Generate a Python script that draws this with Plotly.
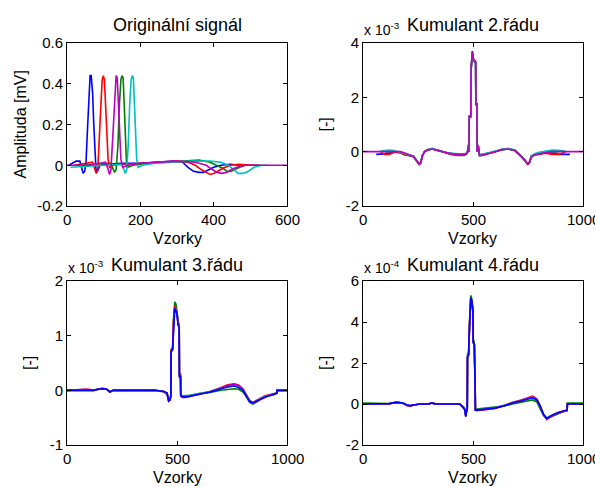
import plotly.graph_objects as go

# ---------------- DATA ----------------
tl_x_blue = [5, 15, 25, 35, 40, 44, 48, 52, 56, 60, 63, 66, 70, 73, 76, 79, 83, 90, 110, 150, 200, 250, 290, 315, 330, 345, 360, 372, 385, 400, 420, 445, 470, 495]
tl_y_blue = [0.0, 0.01, 0.02, 0.02, -0.02, -0.04, -0.03, 0.02, 0.18, 0.36, 0.44, 0.44, 0.35, 0.2, 0.08, -0.02, -0.03, 0.0, 0.005, 0.01, 0.01, 0.015, 0.02, 0.015, -0.01, -0.03, -0.035, -0.035, -0.025, -0.01, 0.0, 0.005, 0.0, 0.0]
tl_x_green = [40, 80, 110, 120, 126, 130, 134, 139, 143, 147, 150, 153, 156, 159, 162, 166, 180, 220, 270, 320, 360, 390, 410, 425, 437, 447, 458, 470, 485, 505, 530]
tl_y_green = [0.0, 0.005, 0.01, 0.01, -0.02, -0.035, -0.02, 0.1, 0.3, 0.42, 0.44, 0.43, 0.3, 0.14, 0.02, -0.01, 0.0, 0.01, 0.015, 0.02, 0.025, 0.015, 0.0, -0.015, -0.03, -0.03, -0.02, -0.01, 0.0, 0.0, 0.0]
tl_x_red = [20, 40, 60, 70, 76, 80, 84, 88, 92, 96, 99, 102, 106, 109, 112, 116, 125, 150, 200, 250, 300, 330, 350, 365, 378, 390, 400, 410, 425, 445, 470, 500, 520]
tl_y_red = [0.0, 0.005, 0.01, 0.015, -0.02, -0.04, -0.02, 0.1, 0.28, 0.42, 0.44, 0.42, 0.3, 0.15, 0.03, -0.01, 0.0, 0.005, 0.01, 0.015, 0.02, 0.015, 0.0, -0.02, -0.035, -0.045, -0.04, -0.03, -0.015, 0.0, 0.005, 0.0, 0.0]
tl_x_cyan = [10, 60, 100, 140, 150, 155, 159, 163, 167, 171, 175, 178, 181, 184, 187, 190, 194, 205, 240, 290, 340, 390, 420, 440, 455, 467, 480, 495, 510, 530, 550]
tl_y_cyan = [-0.01, -0.005, 0.0, 0.005, 0.005, -0.02, -0.04, -0.02, 0.1, 0.3, 0.42, 0.44, 0.43, 0.3, 0.15, 0.03, -0.01, 0.0, 0.01, 0.015, 0.02, 0.02, 0.015, 0.0, -0.02, -0.04, -0.04, -0.03, -0.01, 0.0, 0.0]
tl_x_mag = [0, 60, 90, 105, 112, 116, 120, 124, 128, 132, 134, 137, 140, 143, 147, 152, 165, 200, 250, 300, 350, 380, 395, 410, 422, 435, 450, 470, 490, 520, 560, 600]
tl_y_mag = [0.0, 0.0, 0.01, 0.015, -0.02, -0.045, -0.02, 0.12, 0.3, 0.42, 0.44, 0.43, 0.3, 0.15, 0.03, -0.01, 0.0, 0.01, 0.015, 0.02, 0.015, 0.0, -0.02, -0.035, -0.04, -0.035, -0.02, -0.005, 0.0, 0.0, 0.0, 0.0]

tr_x = [0, 60, 61, 80, 100, 120, 140, 170, 190, 210, 230, 245, 255, 262, 270, 280, 295, 315, 340, 370, 400, 430, 460, 474, 478, 482, 483, 490, 491, 497, 502, 507, 512, 513, 518, 519, 524, 530, 545, 570, 600, 630, 660, 690, 715, 735, 748, 756, 765, 780, 800, 830, 860, 890, 920, 940, 941, 1000]
tr_blue = [None, -0.1, -0.1, -0.1, -0.08, -0.05, 0.0, -0.02, -0.08, -0.15, -0.2, -0.35, -0.47, -0.42, -0.15, 0.0, 0.07, 0.1, 0.06, -0.02, -0.07, -0.1, -0.1, -0.05, 0.12, 0.0, 1.3, 1.3, 3.0, 3.7, 3.4, 3.35, 3.3, 1.75, 1.75, 0.0, 0.15, -0.12, -0.1, -0.05, 0.0, 0.08, 0.1, 0.05, -0.15, -0.3, -0.47, -0.42, -0.2, -0.12, -0.08, -0.05, -0.05, -0.1, -0.1, -0.1, None, None]
tr_green = [None, None, None, None, 0.0, 0.0, 0.0, -0.05, -0.12, -0.15, -0.15, -0.33, -0.44, -0.4, -0.13, 0.0, 0.06, 0.1, 0.05, -0.03, -0.1, -0.14, -0.14, -0.06, 0.25, 0.0, 1.28, 1.28, 2.95, 3.6, 3.35, 3.3, 3.25, 1.72, 1.72, 0.0, 0.25, -0.15, -0.14, -0.08, 0.0, 0.06, 0.1, 0.04, -0.13, -0.3, -0.44, -0.4, -0.15, -0.12, -0.1, -0.02, 0.0, 0.0, None, None, None, None]
tr_red = [None, None, None, -0.02, -0.1, -0.1, -0.03, -0.03, -0.1, -0.13, -0.18, -0.36, -0.46, -0.43, -0.16, 0.0, 0.06, 0.1, 0.05, -0.03, -0.09, -0.12, -0.12, -0.06, 0.15, 0.0, 1.3, 1.3, 3.0, 3.65, 3.4, 3.35, 3.3, 1.75, 1.75, 0.0, 0.18, -0.13, -0.12, -0.07, 0.0, 0.07, 0.1, 0.05, -0.14, -0.32, -0.46, -0.43, -0.18, -0.1, -0.08, -0.06, -0.1, -0.1, -0.02, None, None, None]
tr_cyan = [None, None, None, 0.02, 0.05, 0.06, 0.04, -0.02, -0.06, -0.1, -0.16, -0.34, -0.44, -0.41, -0.14, 0.0, 0.08, 0.12, 0.06, -0.02, -0.06, -0.08, -0.09, -0.04, 0.1, 0.0, 1.3, 1.3, 3.0, 3.6, 3.38, 3.33, 3.28, 1.74, 1.74, 0.0, 0.12, -0.1, -0.09, -0.04, 0.02, 0.09, 0.12, 0.06, -0.14, -0.31, -0.44, -0.41, -0.16, -0.08, -0.02, 0.02, 0.06, 0.05, 0.02, None, None, None]
tr_mag = [0.0, 0.0, 0.0, 0.0, 0.0, 0.0, 0.0, 0.0, -0.05, -0.12, -0.18, -0.35, -0.45, -0.4, -0.15, 0.0, 0.08, 0.1, 0.05, -0.03, -0.08, -0.1, -0.1, -0.05, 0.1, 0.0, 1.3, 1.3, 3.0, 3.65, 3.4, 3.35, 3.3, 1.75, 1.75, 0.0, 0.2, -0.15, -0.12, -0.08, 0.0, 0.08, 0.1, 0.05, -0.15, -0.3, -0.45, -0.4, -0.2, -0.12, -0.08, -0.05, 0.0, 0.0, 0.0, 0.0, 0.0, 0.0]

bl_x = [0, 80, 100, 120, 140, 160, 180, 195, 210, 300, 400, 440, 455, 462, 468, 472, 473, 480, 484, 490, 495, 500, 505, 510, 511, 516, 517, 526, 540, 560, 600, 650, 700, 730, 760, 780, 800, 815, 830, 845, 860, 880, 900, 920, 940, 954, 955, 1000]
bl_green = [0, 0, 0.01, 0.0, 0.02, 0.04, 0.02, -0.02, 0.0, 0.0, 0.0, -0.03, -0.08, -0.18, -0.16, -0.1, 0.75, 0.78, 1.3, 1.62, 1.58, 1.45, 1.25, 1.2, 0.3, 0.3, -0.08, -0.1, -0.1, -0.09, -0.06, -0.04, 0.0, 0.02, 0.03, 0.02, -0.03, -0.12, -0.22, -0.25, -0.22, -0.16, -0.12, -0.1, -0.08, -0.05, 0.0, 0.0]
bl_red = [0, 0.02, 0.02, 0.0, 0.02, 0.03, 0.02, -0.03, 0.0, 0.0, 0.0, -0.02, -0.06, -0.19, -0.17, -0.1, 0.72, 0.76, 1.25, 1.55, 1.5, 1.42, 1.22, 1.18, 0.28, 0.28, -0.1, -0.13, -0.12, -0.1, -0.07, -0.02, 0.05, 0.1, 0.12, 0.1, 0.03, -0.08, -0.18, -0.22, -0.19, -0.14, -0.1, -0.08, -0.06, -0.05, 0.0, 0.0]
bl_cyan = [0, 0, 0.01, 0.0, 0.02, 0.03, 0.02, -0.03, 0.0, 0.0, 0.0, -0.02, -0.05, -0.18, -0.17, -0.1, 0.7, 0.74, 1.2, 1.52, 1.48, 1.4, 1.2, 1.16, 0.26, 0.26, -0.09, -0.11, -0.11, -0.09, -0.06, -0.02, 0.04, 0.08, 0.1, 0.08, 0.02, -0.09, -0.19, -0.22, -0.2, -0.15, -0.11, -0.09, -0.06, -0.05, 0.0, 0.0]
bl_mag = [0, 0.02, 0.01, 0.0, 0.02, 0.03, 0.02, -0.03, 0.0, 0.0, 0.0, -0.02, -0.05, -0.19, -0.18, -0.1, 0.72, 0.75, 1.22, 1.52, 1.46, 1.4, 1.2, 1.15, 0.25, 0.25, -0.11, -0.13, -0.13, -0.11, -0.08, -0.03, 0.04, 0.09, 0.11, 0.09, 0.01, -0.1, -0.21, -0.24, -0.21, -0.16, -0.12, -0.09, -0.07, -0.05, 0.0, 0.0]
bl_blue = [0, 0, 0.01, 0.0, 0.02, 0.03, 0.02, -0.03, 0.0, 0.0, 0.0, -0.02, -0.05, -0.2, -0.18, -0.1, 0.7, 0.75, 1.2, 1.5, 1.45, 1.4, 1.2, 1.15, 0.25, 0.25, -0.1, -0.12, -0.12, -0.1, -0.07, -0.03, 0.03, 0.06, 0.08, 0.05, 0.0, -0.1, -0.2, -0.23, -0.2, -0.15, -0.12, -0.1, -0.07, -0.05, 0.0, 0.0]

br_x = [0, 100, 120, 150, 180, 200, 215, 230, 260, 300, 310, 320, 330, 440, 450, 458, 463, 467, 470, 474, 475, 480, 485, 490, 495, 500, 501, 506, 510, 511, 516, 540, 570, 600, 640, 680, 720, 750, 770, 790, 805, 820, 835, 850, 870, 890, 910, 928, 929, 1000]
br_green = [0.05, 0, 0.02, 0.1, 0.06, -0.05, -0.1, -0.05, 0, 0, 0.06, 0.03, 0, 0, -0.08, -0.15, -0.25, -0.5, -0.35, -0.15, 2.4, 2.5, 4.2, 5.3, 5.1, 4.6, 3.2, 3.0, 0.7, -0.25, -0.25, -0.22, -0.2, -0.17, -0.1, 0.0, 0.1, 0.18, 0.2, 0.1, -0.2, -0.55, -0.72, -0.65, -0.52, -0.44, -0.37, -0.32, 0.05, 0.05]
br_red = [0, 0, 0.02, 0.08, 0.05, -0.08, -0.1, -0.05, 0, 0, 0.05, 0.03, 0, 0, -0.1, -0.18, -0.28, -0.58, -0.38, -0.18, 2.3, 2.4, 4.1, 5.2, 5.0, 4.5, 3.0, 2.9, 0.6, -0.3, -0.32, -0.3, -0.27, -0.22, -0.08, 0.08, 0.2, 0.32, 0.38, 0.25, -0.08, -0.5, -0.75, -0.65, -0.52, -0.44, -0.38, -0.32, 0.0, 0.0]
br_cyan = [0, 0, 0.02, 0.08, 0.05, -0.05, -0.08, -0.05, 0, 0, 0.05, 0.03, 0, 0, -0.1, -0.2, -0.3, -0.6, -0.4, -0.2, 2.3, 2.4, 4.0, 5.1, 4.9, 4.4, 3.0, 2.9, 0.6, -0.28, -0.28, -0.27, -0.24, -0.18, -0.07, 0.07, 0.18, 0.28, 0.33, 0.22, -0.08, -0.48, -0.68, -0.6, -0.5, -0.42, -0.35, -0.3, 0.0, 0.0]
br_mag = [0, 0, 0.02, 0.08, 0.05, -0.06, -0.09, -0.05, 0, 0, 0.05, 0.03, 0, 0, -0.1, -0.2, -0.3, -0.6, -0.4, -0.2, 2.3, 2.4, 4.0, 5.15, 4.95, 4.45, 3.0, 2.9, 0.6, -0.3, -0.3, -0.29, -0.26, -0.2, -0.09, 0.06, 0.17, 0.28, 0.35, 0.24, -0.1, -0.52, -0.74, -0.62, -0.48, -0.4, -0.34, -0.3, 0.0, 0.0]
br_blue = [0, 0, 0.02, 0.08, 0.05, -0.05, -0.08, -0.05, 0, 0, 0.05, 0.03, 0, 0, -0.1, -0.2, -0.3, -0.62, -0.4, -0.2, 2.3, 2.4, 4.0, 5.2, 5.0, 4.5, 3.0, 2.9, 0.6, -0.3, -0.3, -0.28, -0.25, -0.2, -0.1, 0.05, 0.15, 0.25, 0.3, 0.2, -0.1, -0.5, -0.7, -0.6, -0.5, -0.42, -0.35, -0.3, 0.0, 0.0]

tl_xticks = [0, 200, 400, 600]
tl_yticks = [-0.2, 0, 0.2, 0.4, 0.6]
tl_yticktext = ["-0.2", "0", "0.2", "0.4", "0.6"]
k_xticks = [0, 500, 1000]
tr_yticks = [-2, 0, 2, 4]
bl_yticks = [-1, 0, 1, 2]
br_yticks = [-2, 0, 2, 4, 6]

titles = ["Originální signál", "Kumulant 2.řádu", "Kumulant 3.řádu", "Kumulant 4.řádu"]
exponents = ["-3", "-3", "-4"]
ylabels = ["Amplituda [mV]", "[-]", "[-]", "[-]"]
xlabel = "Vzorky"

# ---------------- STYLE ----------------
W, H = 595, 487
FONT = "Liberation Sans, Arial, sans-serif"
C = {"blue": "#0000FF", "green": "#008000", "red": "#FF0000", "cyan": "#00BFBF", "mag": "#BF00BF"}
LW = 1.6

def px(x):
    return x / W

def py(y):
    return 1 - y / H

boxes = [(67, 287, 43, 206), (363, 583, 43, 206), (67, 287, 281, 445), (363, 583, 281, 445)]
xranges = [[0, 600], [0, 1000], [0, 1000], [0, 1000]]
yranges = [[-0.2, 0.6], [-2, 4], [-1, 2], [-2, 6]]
xticks = [tl_xticks, k_xticks, k_xticks, k_xticks]
yticks = [tl_yticks, tr_yticks, bl_yticks, br_yticks]
yticktexts = [tl_yticktext, [str(v) for v in tr_yticks], [str(v) for v in bl_yticks], [str(v) for v in br_yticks]]

fig = go.Figure()

def add(x, y, color, idx):
    sfx = "" if idx == 1 else str(idx)
    fig.add_trace(go.Scatter(x=x, y=y, mode="lines", line=dict(color=color, width=LW),
                             xaxis="x" + sfx, yaxis="y" + sfx, showlegend=False,
                             connectgaps=False, hoverinfo="skip"))

add(tl_x_blue, tl_y_blue, C["blue"], 1)
add(tl_x_green, tl_y_green, C["green"], 1)
add(tl_x_red, tl_y_red, C["red"], 1)
add(tl_x_cyan, tl_y_cyan, C["cyan"], 1)
add(tl_x_mag, tl_y_mag, C["mag"], 1)
for ys, c in [(tr_blue, "blue"), (tr_green, "green"), (tr_red, "red"), (tr_cyan, "cyan"), (tr_mag, "mag")]:
    add(tr_x, ys, C[c], 2)
for ys, c in [(bl_green, "green"), (bl_red, "red"), (bl_cyan, "cyan"), (bl_mag, "mag"), (bl_blue, "blue")]:
    add(bl_x, ys, C[c], 3)
for ys, c in [(br_green, "green"), (br_red, "red"), (br_cyan, "cyan"), (br_mag, "mag"), (br_blue, "blue")]:
    add(br_x, ys, C[c], 4)

tickfont = dict(family=FONT, size=15, color="black")
axis_common = dict(showgrid=False, zeroline=False, showline=True, linecolor="black", linewidth=1,
                   mirror="ticks", ticks="inside", ticklen=4, tickcolor="black", tickwidth=1,
                   automargin=False, ticklabeloverflow="allow", tickfont=tickfont)

layout = dict(width=W, height=H, margin=dict(l=0, r=0, t=0, b=0, pad=0, autoexpand=False),
              paper_bgcolor="white", plot_bgcolor="white", showlegend=False)
for i, (l, r, t, b) in enumerate(boxes):
    sfx = "" if i == 0 else str(i + 1)
    layout["xaxis" + sfx] = dict(axis_common, domain=[px(l), px(r)], range=xranges[i],
                                 tickvals=xticks[i], showticklabels=False, anchor="y" + sfx)
    layout["yaxis" + sfx] = dict(axis_common, domain=[py(b), py(t)], range=yranges[i],
                                 tickvals=yticks[i], ticktext=yticktexts[i], anchor="x" + sfx)
fig.update_layout(**layout)

ann = []
tfont = dict(family=FONT, size=18, color="black")
lfont = dict(family=FONT, size=16, color="black")
efont = dict(family=FONT, size=14, color="black")
title_y = [25, 25, 265, 265]
for i, (l, r, t, b) in enumerate(boxes):
    sfx = "" if i == 0 else str(i + 1)
    cx = (l + r) / 2
    cy = (t + b) / 2
    for v in xticks[i]:
        ann.append(dict(text=str(v), x=v, xref="x" + sfx, y=py(b + 3), yref="paper",
                        xanchor="center", yanchor="top", showarrow=False, font=tickfont))
    ann.append(dict(text=titles[i], x=px(cx), y=py(title_y[i]), xref="paper", yref="paper",
                    xanchor="center", yanchor="middle", showarrow=False, font=tfont))
    ann.append(dict(text=xlabel, x=px(cx), y=py(b + 32), xref="paper", yref="paper",
                    xanchor="center", yanchor="middle", showarrow=False, font=lfont))
    ylx = 20 if i == 0 else (l - 38)
    ann.append(dict(text=ylabels[i], x=px(ylx), y=py(cy), xref="paper", yref="paper",
                    xanchor="center", yanchor="middle", showarrow=False, font=lfont, textangle=-90))
    if i > 0:
        ann.append(dict(text="x 10<sup>" + exponents[i - 1] + "</sup>", x=px(l - 1), y=py(t - 14),
                        xref="paper", yref="paper", xanchor="left", yanchor="middle",
                        showarrow=False, font=efont))
fig.update_layout(annotations=ann)

fig.write_html("out.html", config={"displayModeBar": False, "staticPlot": True},
               post_script="document.body.style.margin='0px';document.body.style.overflow='hidden';")
